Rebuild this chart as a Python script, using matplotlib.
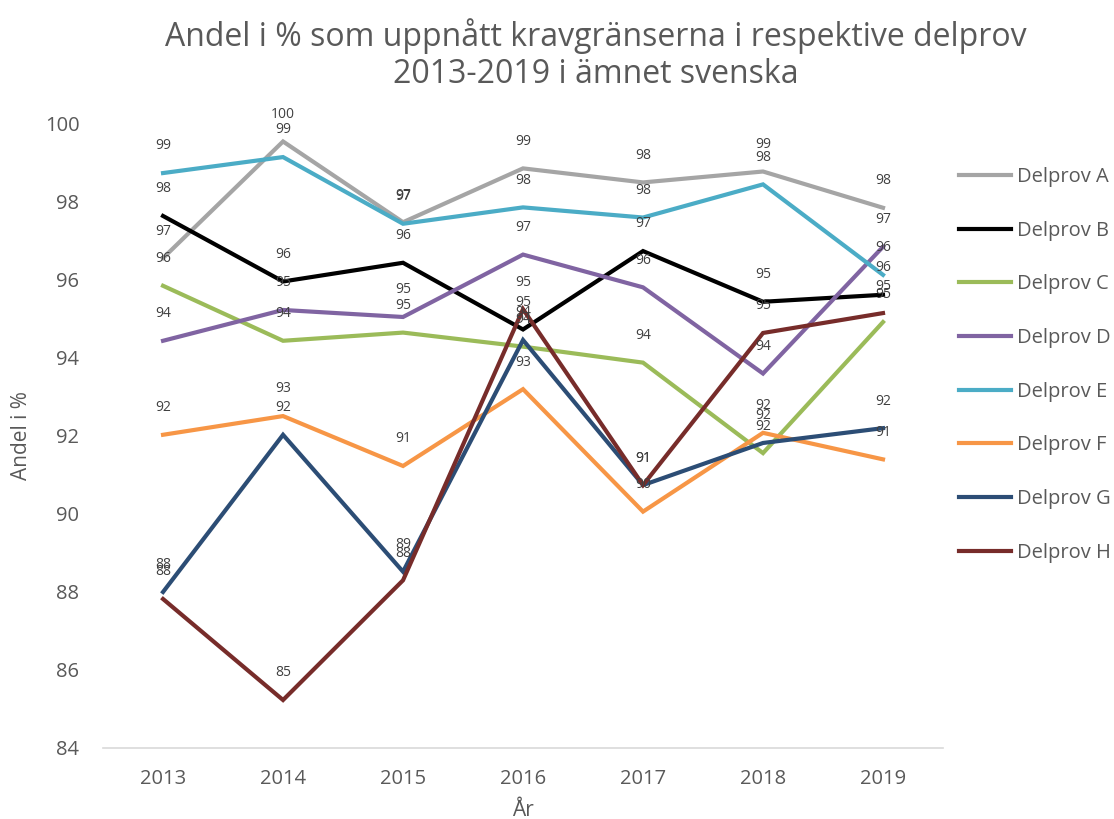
import matplotlib.pyplot as plt

plt.rcParams['font.family'] = ['Open Sans', 'DejaVu Sans']

# data
years = ["2013", "2014", "2015", "2016", "2017", "2018", "2019"]
delprov_a = [96.56, 99.55, 97.48, 98.86, 98.50, 98.78, 97.85]
delprov_b = [97.64, 95.96, 96.44, 94.73, 96.74, 95.44, 95.62]
delprov_c = [95.85, 94.44, 94.65, 94.29, 93.88, 91.56, 94.92]
delprov_d = [94.44, 95.23, 95.05, 96.65, 95.81, 93.60, 96.85]
delprov_e = [98.74, 99.15, 97.44, 97.86, 97.60, 98.45, 96.13]
delprov_f = [92.03, 92.51, 91.23, 93.20, 90.06, 92.08, 91.40]
delprov_g = [88.00, 92.03, 88.52, 94.46, 90.74, 91.82, 92.20]
delprov_h = [87.82, 85.23, 88.30, 95.25, 90.74, 94.64, 95.15]

names = ["Delprov A", "Delprov B", "Delprov C", "Delprov D",
         "Delprov E", "Delprov F", "Delprov G", "Delprov H"]
series = [delprov_a, delprov_b, delprov_c, delprov_d,
          delprov_e, delprov_f, delprov_g, delprov_h]
colors = ["#A5A5A5", "#000000", "#9BBB59", "#8064A2",
          "#4BACC6", "#F79646", "#2C4D75", "#772C2A"]

text_col = "#595959"

fig = plt.figure(figsize=(11.14, 8.19), dpi=100)
ax = fig.add_axes([0.0925, 0.0867, 0.754, 0.762])

x = list(range(len(years)))
for name, vals, c in zip(names, series, colors):
    ax.plot(x, vals, color=c, lw=3, label=name, solid_joinstyle="miter")
    for xi, v in zip(x, vals):
        ax.annotate(f"{v:.0f}", (xi, v), xytext=(0, 19.5), textcoords="offset points",
                    ha="center", va="center", fontsize=10, color="#404040")

ax.set_xlim(-0.5, 6.5)
ax.set_ylim(84, 100)
ax.set_xticks(x)
ax.set_xticklabels(years)
ax.set_yticks(range(84, 101, 2))
ax.tick_params(length=0, labelsize=14.5, labelcolor=text_col)
ax.tick_params(axis="x", pad=15)
ax.tick_params(axis="y", pad=17)
for s in ["top", "right", "left"]:
    ax.spines[s].set_visible(False)
ax.spines["bottom"].set_color("#D9D9D9")
ax.spines["bottom"].set_linewidth(1.2)

ax.set_xlabel("År", fontsize=15, color=text_col, labelpad=8)
ax.set_ylabel("Andel i %", fontsize=15, color=text_col, labelpad=9)

fig.text(0.535, 0.978,
         "Andel i % som uppnått kravgränserna i respektive delprov\n2013-2019 i ämnet svenska",
         ha="center", va="top", fontsize=23, color=text_col, linespacing=1.15)

fig.legend(loc="upper left", bbox_to_anchor=(0.8447, 0.818), frameon=False,
           fontsize=14.5, handlelength=2.6, labelspacing=1.67, handletextpad=0.25,
           labelcolor=text_col)

fig.savefig("out.png", dpi=100)
